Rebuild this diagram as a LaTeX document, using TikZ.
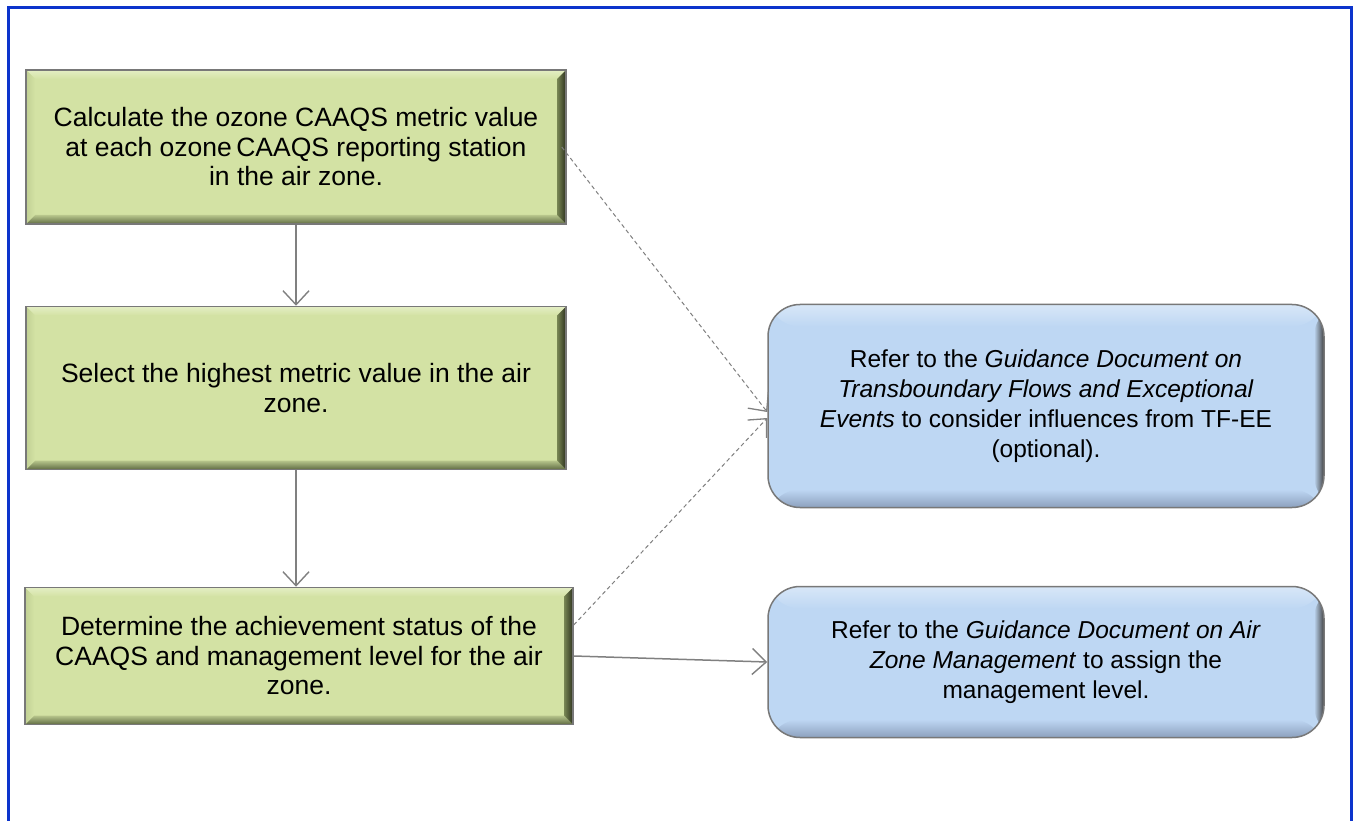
\documentclass[tikz,border=0pt]{standalone}
\usepackage{fontspec}
\setmainfont{Liberation Sans}
\usetikzlibrary{arrows.meta,calc}

\definecolor{frameblue}{RGB}{12,52,204}
\definecolor{gfill}{RGB}{211,226,164}
\definecolor{glight}{RGB}{228,238,196}
\definecolor{gdark}{RGB}{120,134,84}
\definecolor{gvdark}{RGB}{45,50,30}
\definecolor{bfill}{RGB}{190,215,243}
\definecolor{bdark}{RGB}{140,160,190}
\definecolor{lgray}{RGB}{128,128,128}
\definecolor{egray}{RGB}{120,120,120}

\tikzset{
  greenbox/.style={draw=egray, line width=1.5pt, fill=gfill, align=center,
    font=\fontsize{26.5}{29.5}\selectfont, inner sep=0pt,
    path picture={
      \coordinate (nw) at (path picture bounding box.north west);
      \coordinate (ne) at (path picture bounding box.north east);
      \coordinate (sw) at (path picture bounding box.south west);
      \coordinate (se) at (path picture bounding box.south east);
      \shade[top color=glight, bottom color=gfill]
        (nw) -- (ne) -- ([shift={(-9pt,-9pt)}]ne) -- ([shift={(9pt,-9pt)}]nw) -- cycle;
      \shade[top color=gfill!70!gdark, bottom color=gdark!80!black]
        (sw) -- (se) -- ([shift={(-9pt,9pt)}]se) -- ([shift={(9pt,9pt)}]sw) -- cycle;
      \shade[left color=gdark, right color=gvdark]
        (ne) -- (se) -- ([shift={(-9pt,9pt)}]se) -- ([shift={(-9pt,-9pt)}]ne) -- cycle;
      \shade[left color=gfill!80!gdark, right color=gfill]
        (nw) -- (sw) -- ([shift={(9pt,9pt)}]sw) -- ([shift={(9pt,-9pt)}]nw) -- cycle;
    }},
  bluebox/.style={draw=egray, line width=1.5pt, rounded corners=32pt, fill=bfill,
    align=center, font=\fontsize{24.5}{30}\selectfont, inner sep=0pt,
    path picture={
      \coordinate (nw) at (path picture bounding box.north west);
      \coordinate (ne) at (path picture bounding box.north east);
      \coordinate (sw) at (path picture bounding box.south west);
      \coordinate (se) at (path picture bounding box.south east);
      \shade[top color=bfill!60!white, bottom color=bfill]
        (nw) rectangle ([yshift=-22pt]ne);
      \shade[top color=bfill, bottom color=bdark]
        ([yshift=18pt]sw) rectangle (se);
      \shade[left color=bfill, right color=black!75]
        ([xshift=-10pt]ne) rectangle (se);
    }},
  flowarrow/.style={draw=lgray, line width=1.5pt,
    -{Straight Barb[length=14pt,width=26pt,line width=1.4pt]}},
  dasharrow/.style={draw=lgray, line width=1pt, dash pattern=on 4pt off 3pt,
    -{Straight Barb[length=14pt,width=26pt,line width=1.3pt]}}
}

\begin{document}
\begin{tikzpicture}[x=1pt,y=-1pt]
\useasboundingbox (0,0) rectangle (1353,821);
\fill[white] (0,0) rectangle (1353,821);
\draw[frameblue, line width=3pt] (8,840) -- (8,8) -- (1351,8) -- (1351,840);

\node[greenbox, minimum width=540pt, minimum height=154pt] (b1) at (296,147)
  {Calculate the ozone CAAQS metric value\\ at each ozone\,CAAQS reporting station\\ in the air zone.};
\node[greenbox, minimum width=540pt, minimum height=163pt] (b2) at (296,388)
  {Select the highest metric value in the air\\ zone.};
\node[greenbox, minimum width=548pt, minimum height=137pt] (b3) at (299,656)
  {Determine the achievement status of the\\ CAAQS and management level for the air\\ zone.};

\node[bluebox, minimum width=556pt, minimum height=203pt] (r1) at (1046,406)
  {Refer to the \textit{Guidance Document on}\\ \textit{Transboundary Flows and Exceptional}\\ \textit{Events} to consider influences from TF-EE\\ (optional).};
\node[bluebox, minimum width=556pt, minimum height=151pt] (r2) at (1046,662)
  {Refer to the \textit{Guidance Document on Air}\\ \textit{Zone Management} to assign the\\ management level.};

\draw[flowarrow] (b1.south) -- (b1.south |- b2.north);
\draw[flowarrow] (b1.south |- b2.south) -- (b1.south |- b3.north);
\draw[dasharrow] ([xshift=-5pt]b1.east) -- ([yshift=-6pt]r1.west);
\draw[dasharrow] ([yshift=31pt]b3.east) -- ([yshift=-12pt]r1.west);
\draw[flowarrow] (b3.east) -- (r2.west);
\end{tikzpicture}
\end{document}
